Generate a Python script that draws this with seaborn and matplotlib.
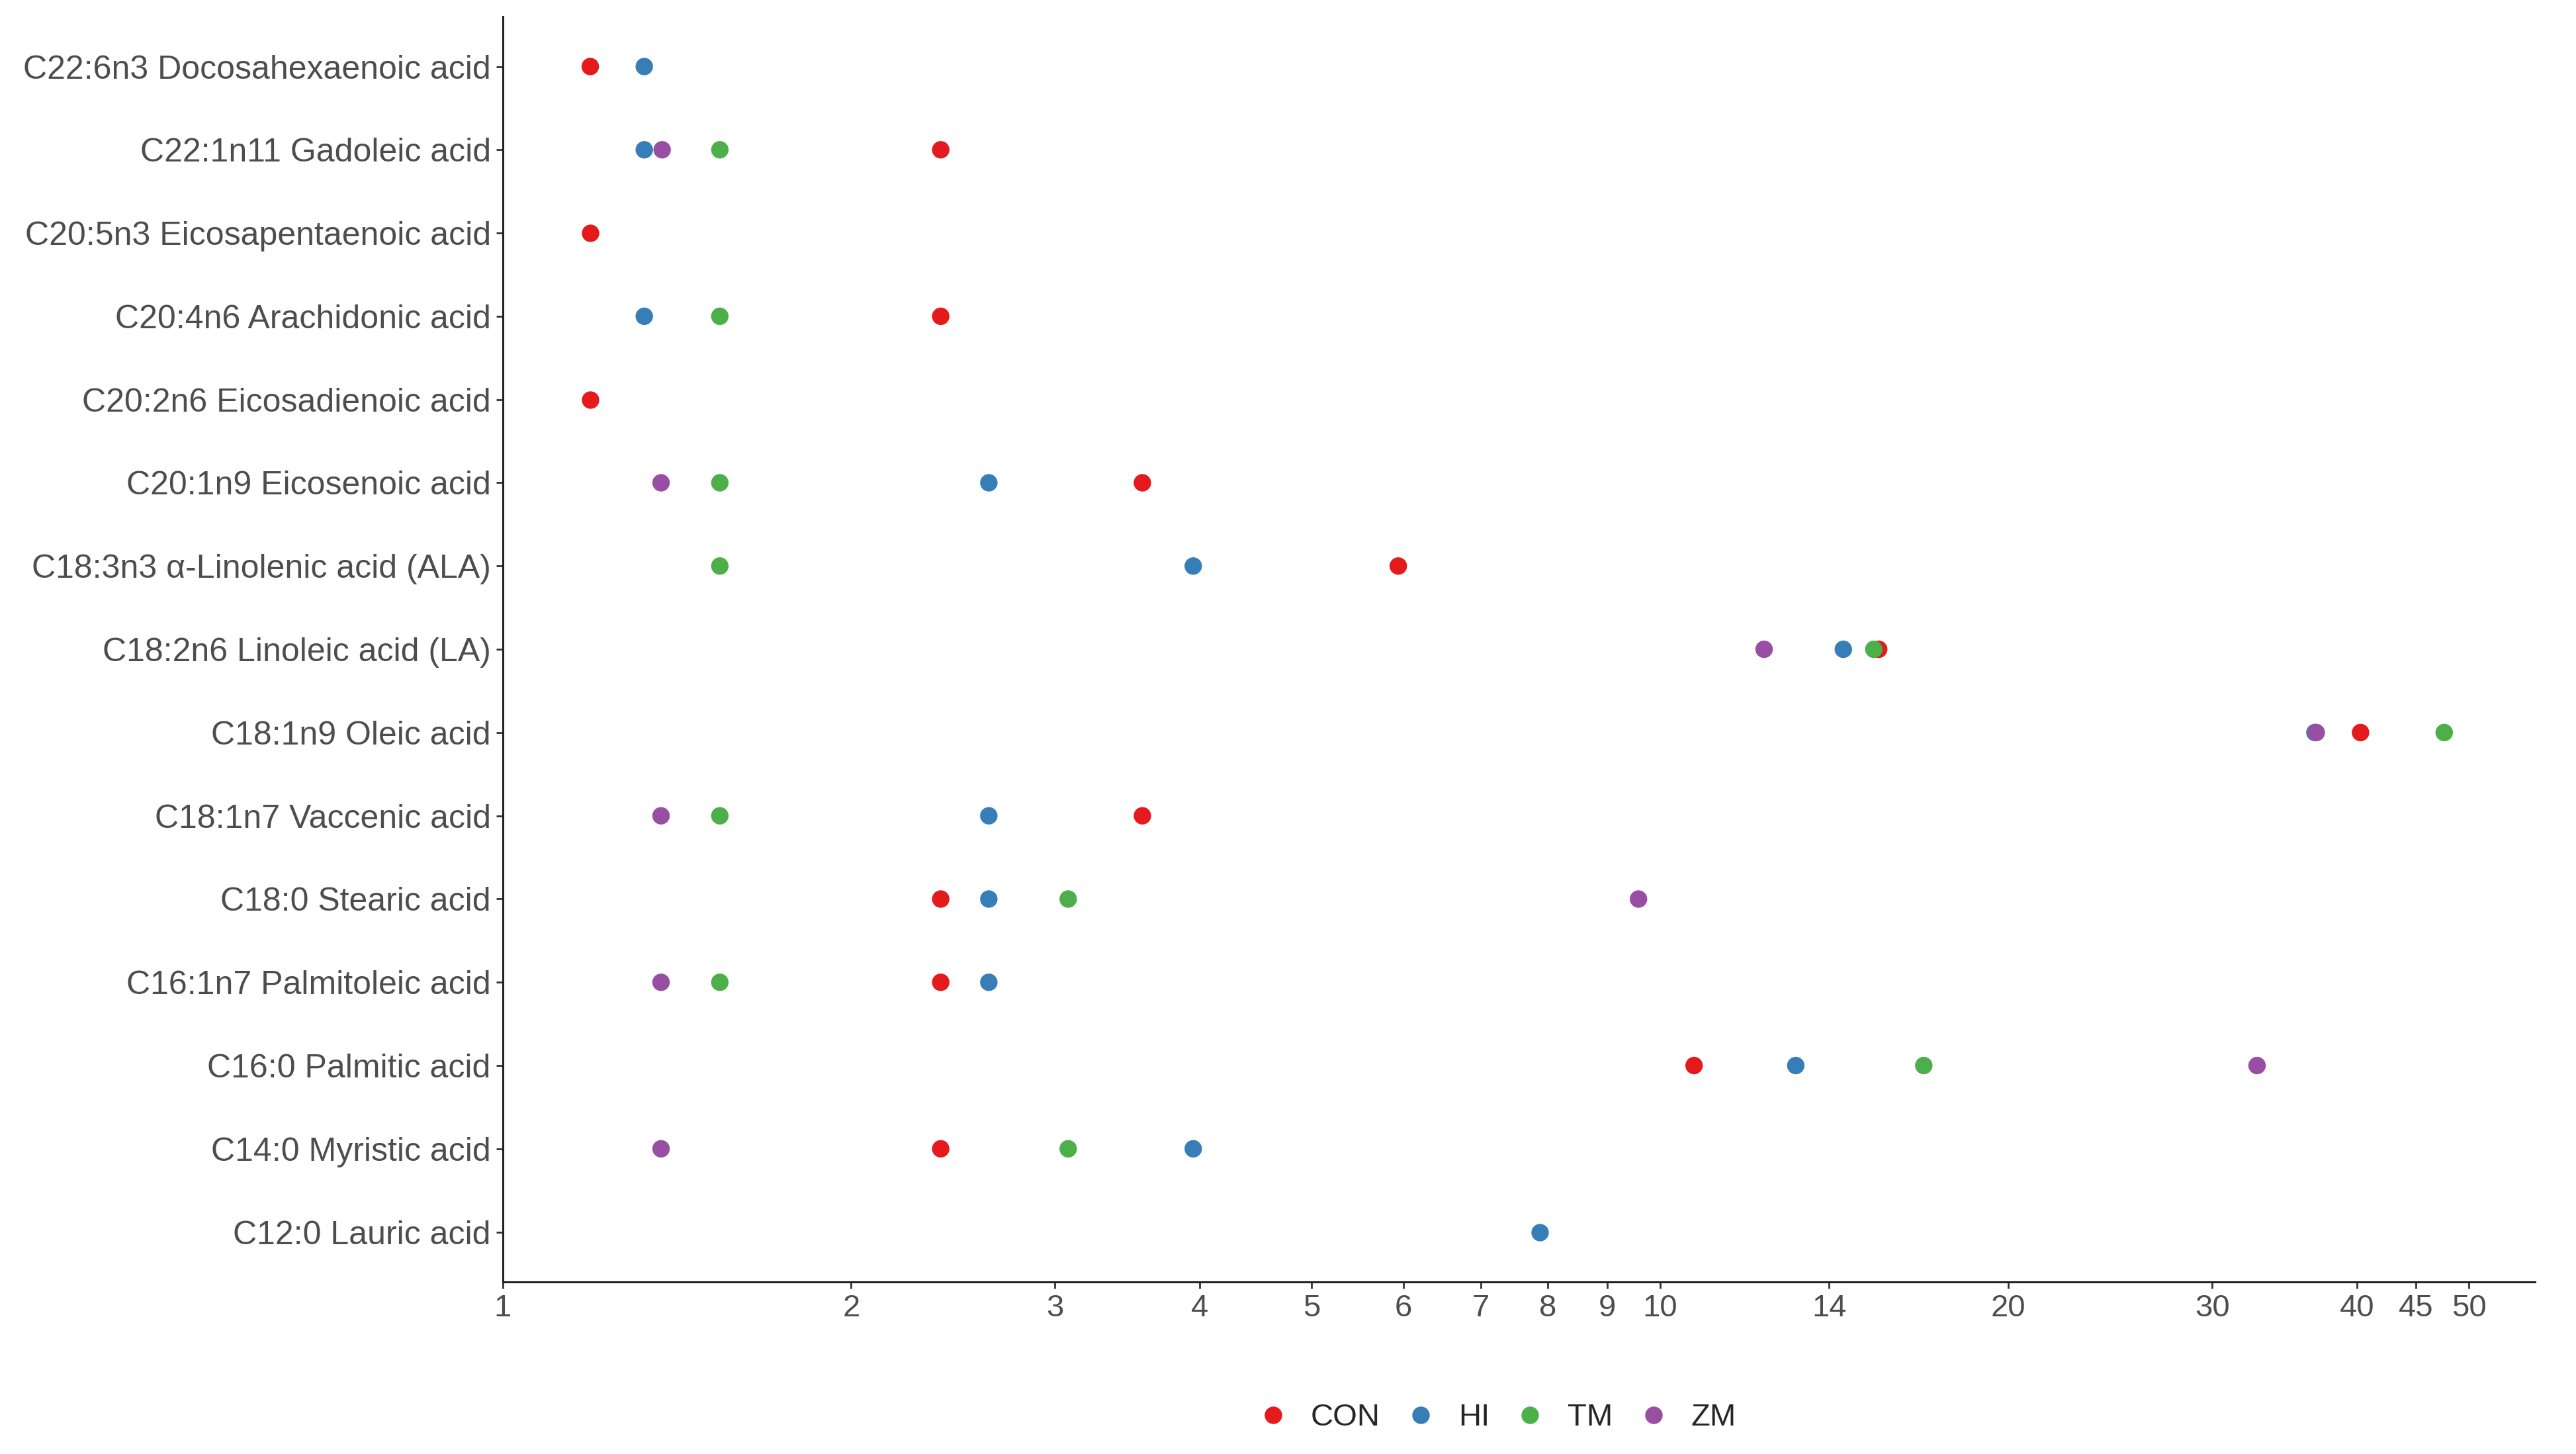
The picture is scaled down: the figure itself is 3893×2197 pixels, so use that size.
import pandas as pd
import matplotlib.pyplot as plt
import seaborn as sns
from matplotlib.ticker import FixedLocator, NullLocator

# fatty acids, top to bottom as in the figure
acids = [
    "C22:6n3 Docosahexaenoic acid",
    "C22:1n11 Gadoleic acid",
    "C20:5n3 Eicosapentaenoic acid",
    "C20:4n6 Arachidonic acid",
    "C20:2n6 Eicosadienoic acid",
    "C20:1n9 Eicosenoic acid",
    "C18:3n3 α-Linolenic acid (ALA)",
    "C18:2n6 Linoleic acid (LA)",
    "C18:1n9 Oleic acid",
    "C18:1n7 Vaccenic acid",
    "C18:0 Stearic acid",
    "C16:1n7 Palmitoleic acid",
    "C16:0 Palmitic acid",
    "C14:0 Myristic acid",
    "C12:0 Lauric acid",
]
groups = ["CON", "HI", "TM", "ZM"]

# values (None = not shown)
con = [1.19, 2.39, 1.19, 2.39, 1.19, 3.57, 5.94, 15.45, 40.3, 3.57, 2.39, 2.39, 10.7, 2.39, None]
hi = [1.325, 1.325, None, 1.325, None, 2.63, 3.95, 14.4, 36.8, 2.63, 2.63, 2.63, 13.1, 3.95, 7.87]
tm = [None, 1.54, None, 1.54, None, 1.54, 1.54, 15.3, 47.6, 1.54, 3.08, 1.54, 16.9, 3.08, None]
zm = [None, 1.373, None, None, None, 1.37, None, 12.3, 36.9, 1.37, 9.58, 1.37, 32.8, 1.37, None]

xticks = [1, 2, 3, 4, 5, 6, 7, 8, 9, 10, 14, 20, 30, 40, 45, 50]

rows = []
for g, vals in zip(groups, [con, hi, tm, zm]):
    for a, v in zip(acids, vals):
        if v is not None:
            rows.append({"acid": a, "group": g, "value": v})
df = pd.DataFrame(rows)

sns.set_style("white")
plt.rcParams["font.family"] = ["Liberation Sans", "DejaVu Sans"]

fig, ax = plt.subplots(figsize=(38.93, 21.97), dpi=100)
fig.subplots_adjust(left=0.1952, right=0.984, top=0.9886, bottom=0.1183)

sns.stripplot(data=df, x="value", y="acid", hue="group", order=acids,
              hue_order=groups, palette="Set1", jitter=False, size=19,
              linewidth=0, ax=ax)

ax.set_xscale("log")
ax.set_xlim(1, 57)
ax.set_ylim(14.6, -0.6)
ax.xaxis.set_major_locator(FixedLocator(xticks))
ax.xaxis.set_minor_locator(NullLocator())
ax.set_xticklabels([str(t) for t in xticks])
ax.set_xlabel("")
ax.set_ylabel("")

sns.despine(ax=ax)
for s in ["left", "bottom"]:
    ax.spines[s].set_color("#222222")
    ax.spines[s].set_linewidth(2.2)
ax.tick_params(axis="both", which="major", length=7, width=2, color="#333333",
               labelcolor="#4d4d4d", direction="out", pad=6,
               left=True, bottom=True)
ax.tick_params(axis="y", labelsize=36)
ax.tick_params(axis="x", labelsize=34)

handles, labels = ax.get_legend_handles_labels()
ax.legend(handles, labels, loc="center", bbox_to_anchor=(0.578, 0.025),
          bbox_transform=fig.transFigure, ncol=4, frameon=False, fontsize=34,
          handletextpad=0.2, columnspacing=0.3, markerscale=1.0)

plt.savefig("out.png", dpi=100)
